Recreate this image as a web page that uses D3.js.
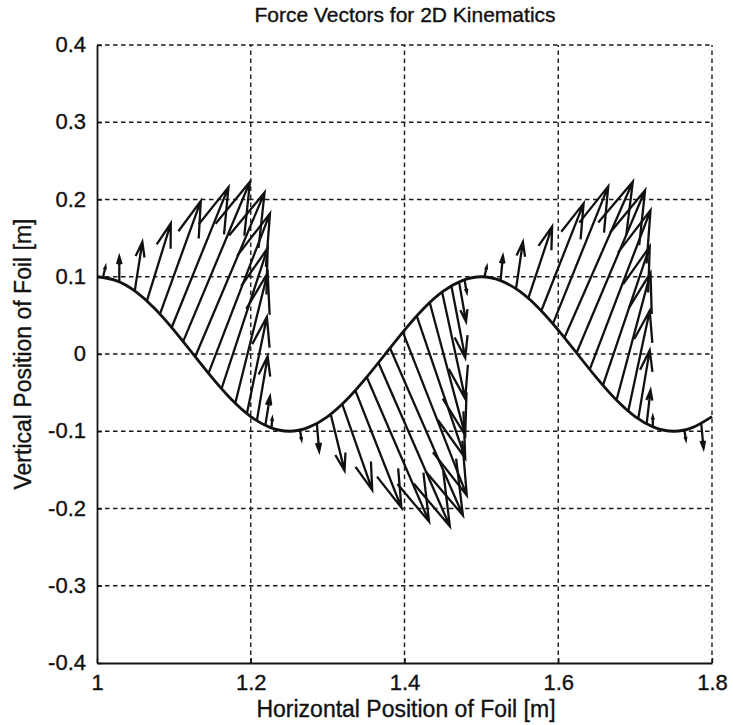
<!DOCTYPE html>
<html>
<head>
<meta charset="utf-8">
<script src="https://cdn.jsdelivr.net/npm/d3@7"></script>
<style>
  html, body { margin: 0; padding: 0; background: #fff; }
  svg { display: block; }
  text { font-family: "Liberation Sans", Arial, Helvetica, sans-serif; fill: #111; }
</style>
</head>
<body>
<div id="chart"></div>
<script>
// ---------- data ----------
const titleText = "Force Vectors for 2D Kinematics";
const xLabelText = "Horizontal Position of Foil [m]";
const yLabelText = "Vertical Position of Foil [m]";

const xTicks = [1, 1.2, 1.4, 1.6, 1.8];
const xTickLabels = ["1", "1.2", "1.4", "1.6", "1.8"];
const yTicks = [-0.4, -0.3, -0.2, -0.1, 0, 0.1, 0.2, 0.3, 0.4];
const yTickLabels = ["-0.4", "-0.3", "-0.2", "-0.1", "0", "0.1", "0.2", "0.3", "0.4"];

// foil path
const pathX = [1.000, 1.025, 1.050, 1.075, 1.100, 1.125, 1.150, 1.175, 1.200, 1.225,
               1.250, 1.275, 1.300, 1.325, 1.350, 1.375, 1.400, 1.425, 1.450, 1.475,
               1.500, 1.525, 1.550, 1.575, 1.600, 1.625, 1.650, 1.675, 1.700, 1.725,
               1.750, 1.775, 1.800];
const pathY = [0.100, 0.095, 0.081, 0.059, 0.031, 0.000, -0.031, -0.059, -0.081, -0.095,
               -0.100, -0.095, -0.081, -0.059, -0.031, 0.000, 0.031, 0.059, 0.081, 0.095,
               0.100, 0.095, 0.081, 0.059, 0.031, 0.000, -0.031, -0.059, -0.081, -0.095,
               -0.100, -0.095, -0.081];

// force vectors: base position on the path and drawn components
const arrowX = [
  1.008, 1.029, 1.049, 1.065, 1.082, 1.097, 1.112, 1.128, 1.145, 1.162, 1.180, 1.195, 1.208, 1.219, 1.227,
  1.264, 1.286, 1.304, 1.319, 1.336, 1.351, 1.366, 1.381, 1.398, 1.416, 1.433, 1.449, 1.461, 1.471, 1.478,
  1.504, 1.525, 1.545, 1.561, 1.578, 1.593, 1.608, 1.624, 1.641, 1.658, 1.676, 1.691, 1.704, 1.715, 1.723,
  1.764, 1.786
];
const arrowY = [
  0.100, 0.094, 0.081, 0.069, 0.052, 0.034, 0.016, -0.003, -0.025, -0.045, -0.063, -0.077, -0.086, -0.092, -0.096,
  -0.098, -0.090, -0.078, -0.065, -0.047, -0.030, -0.011, 0.008, 0.028, 0.049, 0.066, 0.080, 0.088, 0.093, 0.096,
  0.100, 0.095, 0.084, 0.072, 0.056, 0.039, 0.021, 0.002, -0.020, -0.041, -0.059, -0.074, -0.084, -0.090, -0.095,
  -0.098, -0.090
];
const arrowU = [
  0.003, 0.000, 0.010, 0.031, 0.053, 0.074, 0.087, 0.090, 0.080, 0.060, 0.042, 0.026, 0.014, 0.006, 0.001,
  0.002, 0.003, 0.018, 0.039, 0.060, 0.081, 0.093, 0.095, 0.083, 0.063, 0.046, 0.030, 0.018, 0.009, 0.003,
  0.003, 0.003, 0.009, 0.031, 0.055, 0.072, 0.089, 0.089, 0.079, 0.061, 0.044, 0.028, 0.015, 0.005, 0.000,
  0.002, 0.003
];
const arrowV = [
  0.013, 0.032, 0.064, 0.100, 0.146, 0.182, 0.207, 0.212, 0.207, 0.182, 0.168, 0.125, 0.083, 0.037, 0.013,
  -0.013, -0.036, -0.073, -0.111, -0.152, -0.187, -0.212, -0.217, -0.211, -0.184, -0.171, -0.138, -0.093, -0.051, -0.016,
  0.013, 0.032, 0.061, 0.093, 0.139, 0.178, 0.202, 0.210, 0.206, 0.180, 0.164, 0.130, 0.089, 0.043, 0.014,
  -0.013, -0.032
];

// ---------- layout ----------
const W = 733, H = 725;
const margin = { left: 97, right: 21, top: 45, bottom: 62 };
const pw = W - margin.left - margin.right;
const ph = H - margin.top - margin.bottom;

const svg = d3.select("#chart").append("svg")
  .attr("width", W).attr("height", H)
  .attr("viewBox", `0 0 ${W} ${H}`);

const x = d3.scaleLinear().domain([1, 1.8]).range([margin.left, margin.left + pw]);
const y = d3.scaleLinear().domain([-0.4, 0.4]).range([margin.top + ph, margin.top]);

// grid (dotted)
const grid = svg.append("g").attr("stroke", "#1a1a1a").attr("stroke-width", 1.4)
  .attr("stroke-dasharray", "4.5,3.5");
grid.selectAll("line.gx").data(xTicks.slice(1)).join("line")
  .attr("x1", d => x(d)).attr("x2", d => x(d))
  .attr("y1", y(-0.4)).attr("y2", y(0.4));
grid.selectAll("line.gy").data(yTicks.slice(1)).join("line")
  .attr("y1", d => y(d)).attr("y2", d => y(d))
  .attr("x1", x(1)).attr("x2", x(1.8));

// axes
const xAxis = d3.axisBottom(x).tickValues(xTicks)
  .tickFormat((d, i) => xTickLabels[i]).tickSizeInner(-5).tickSizeOuter(0).tickPadding(9);
const yAxis = d3.axisLeft(y).tickValues(yTicks)
  .tickFormat((d, i) => yTickLabels[i]).tickSizeInner(-5).tickSizeOuter(0).tickPadding(11);

const gx = svg.append("g").attr("transform", `translate(0,${y(-0.4)})`).call(xAxis);
const gy = svg.append("g").attr("transform", `translate(${x(1)},0)`).call(yAxis);
[gx, gy].forEach(g => {
  g.select(".domain").attr("stroke", "#111").attr("stroke-width", 1.8);
  g.selectAll(".tick line").attr("stroke", "#111").attr("stroke-width", 1.4);
  g.selectAll(".tick text").attr("font-size", 22).attr("fill", "#111")
    .attr("stroke", "#111").attr("stroke-width", 0.35)
    .attr("font-family", "'Liberation Sans', Arial, sans-serif");
});
gx.selectAll(".tick text").attr("dy", "0.8em");
gy.selectAll(".tick text").attr("dy", "0.3em");

// foil path
const pts = pathX.map((d, i) => [d, pathY[i]]);
const line = d3.line().x(d => x(d[0])).y(d => y(d[1])).curve(d3.curveNatural);
svg.append("path").datum(pts).attr("d", line)
  .attr("fill", "none").attr("stroke", "#111").attr("stroke-width", 2.8);

// quiver arrows (MATLAB-style heads)
const alpha = 0.3, beta = 0.3;
const arrows = arrowX.map((d, i) => ({ x: d, y: arrowY[i], u: arrowU[i], v: arrowV[i] }));
const ag = svg.append("g").attr("fill", "none").attr("stroke", "#111")
  .attr("stroke-width", 2.3).attr("stroke-linejoin", "miter").attr("stroke-linecap", "butt");
ag.selectAll("path").data(arrows).join("path")
  .attr("d", a => {
    const x0 = x(a.x), y0 = y(a.y);
    const x1 = x(a.x + a.u), y1 = y(a.y + a.v);
    const du = x1 - x0, dv = y1 - y0;
    const b1x = x1 - alpha * (du + beta * dv), b1y = y1 - alpha * (dv - beta * du);
    const b2x = x1 - alpha * (du - beta * dv), b2y = y1 - alpha * (dv + beta * du);
    return `M${x0},${y0}L${x1},${y1}M${b1x},${b1y}L${x1},${y1}L${b2x},${b2y}`;
  });

// title and labels
const labelStyle = s => s.attr("stroke", "#111").attr("stroke-width", 0.35);
svg.append("text").attr("x", 405).attr("y", 22).attr("text-anchor", "middle")
  .attr("font-size", 21).text(titleText).call(labelStyle);
svg.append("text").attr("x", 406).attr("y", 717).attr("text-anchor", "middle")
  .attr("font-size", 23).text(xLabelText).call(labelStyle);
svg.append("text").attr("transform", `translate(31,${y(0)}) rotate(-90)`)
  .attr("text-anchor", "middle").attr("font-size", 23).text(yLabelText).call(labelStyle);
</script>
</body>
</html>
